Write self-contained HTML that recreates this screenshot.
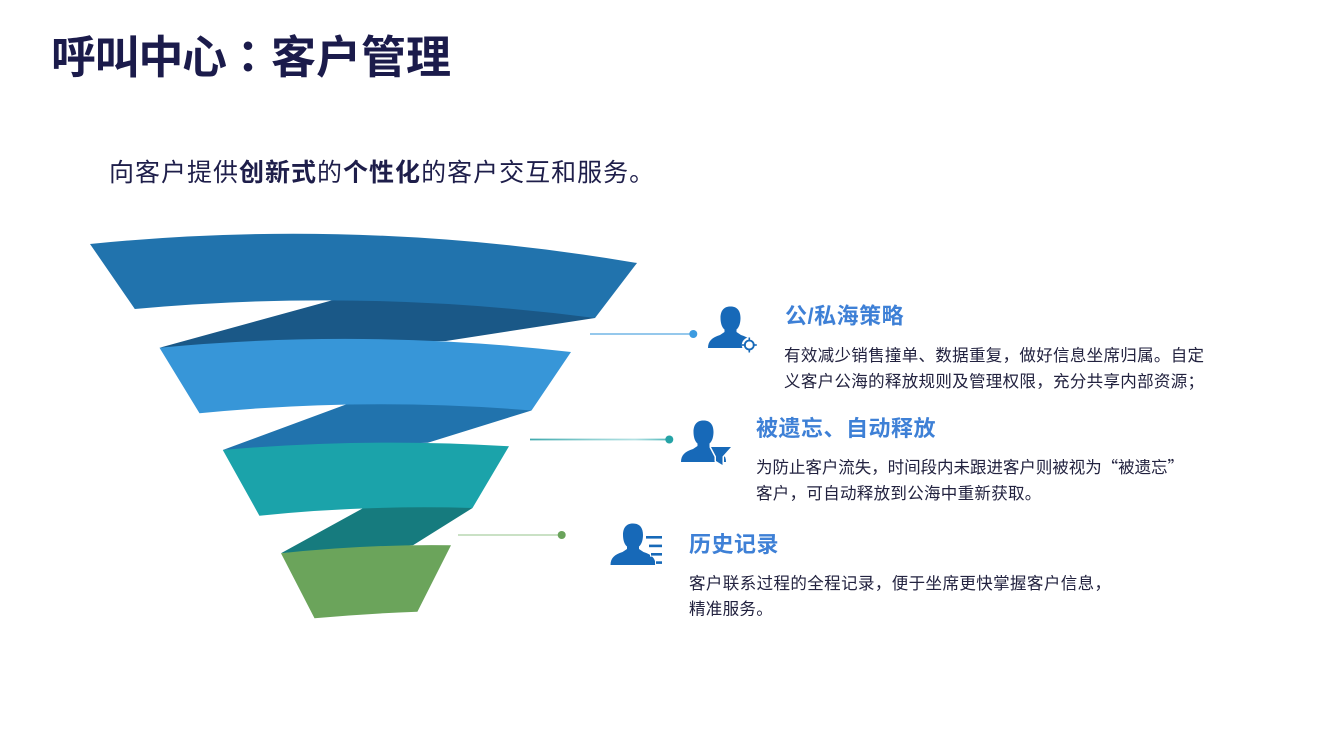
<!DOCTYPE html>
<html>
<head>
<meta charset="utf-8">
<style>
  html, body { margin: 0; padding: 0; background: #ffffff; }
  body { width: 1333px; height: 750px; overflow: hidden; }
  svg { display: block; }
  .t { font-family: "Liberation Sans", "Noto Sans CJK SC", sans-serif; }
</style>
</head>
<body>
<svg width="1333" height="750" viewBox="0 0 1333 750" xmlns="http://www.w3.org/2000/svg">
  <defs>
    <linearGradient id="g2" x1="530" y1="0" x2="670" y2="0" gradientUnits="userSpaceOnUse">
      <stop offset="0" stop-color="#3FA9AD"/>
      <stop offset="0.45" stop-color="#8ED0D2"/>
      <stop offset="0.75" stop-color="#B3E1E3"/>
      <stop offset="1" stop-color="#4DB6B9"/>
    </linearGradient>
  </defs>
  <rect width="1333" height="750" fill="#ffffff"/>

  <!-- Title -->
  <text class="t" x="51" y="73" font-size="45" font-weight="bold" fill="#1B1B4B" textLength="176" lengthAdjust="spacing">呼叫中心</text>
  <text x="248" y="73" font-size="45" font-weight="bold" fill="#1B1B4B" text-anchor="middle" font-family="'Liberation Sans', 'Noto Sans CJK TC', sans-serif">：</text>
  <text class="t" x="271" y="73" font-size="45" font-weight="bold" fill="#1B1B4B" textLength="180" lengthAdjust="spacing">客户管理</text>

  <!-- Subtitle -->
  <text class="t" x="109" y="181" font-size="25" fill="#1E1E4A" letter-spacing="1">向客户提供<tspan font-weight="bold">创新式</tspan>的<tspan font-weight="bold">个性化</tspan>的客户交互和服务。</text>

  <!-- Funnel dark (back) pieces -->
  <path d="M159.5,347.7 L336,299.2 L342,291 L600,300 L595,318 L446,341 Z" fill="#1A5887"/>
  <path d="M222.8,450 L350,403 L356,398 L530,404 L531.5,410.5 L427.8,442.7 Z" fill="#2173AD"/>
  <path d="M281,553.3 L367,506 L372,501 L470,502 L472.5,508 L413,545.3 Z" fill="#167B7E"/>

  <!-- Funnel bands -->
  <path d="M90,244 Q363.5,216.5 637,263 L595,318 Q365,288 134.8,309 Z" fill="#2173AD"/>
  <path d="M159.5,347.7 Q365.25,328.2 571,352 L531.5,410.5 Q365.5,396.7 199.5,413.3 Z" fill="#3796D8"/>
  <path d="M222.8,450 Q365.9,437.3 509,446.3 L472.5,508 Q365.9,504.8 259.4,515.7 Z" fill="#1BA3AA"/>
  <path d="M281,553.3 Q366,544.1 451,545.3 L417.4,611.7 Q366,613.6 314.5,618.3 Z" fill="#6BA45B"/>

  <!-- Connectors -->
  <line x1="590" y1="334" x2="693" y2="334" stroke="#72B5E6" stroke-width="1.6"/>
  <circle cx="693.3" cy="334" r="4" fill="#3C9BE0"/>
  <line x1="530" y1="439.5" x2="669" y2="439.5" stroke="url(#g2)" stroke-width="1.8"/>
  <circle cx="669.3" cy="439.5" r="4" fill="#25A3A6"/>
  <line x1="458" y1="535" x2="561" y2="535" stroke="#C3DDBD" stroke-width="1.8"/>
  <circle cx="561.7" cy="535" r="4" fill="#6AA35B"/>

  <!-- Icon 1: person + target -->
  <g fill="#1769B8">
    <path d="M708,348 C708,341 712,337.5 720,335 L724.5,332 L724.5,329.5 C721.5,327 720.5,322 720.5,318 C720.5,310 724.5,306.5 730.5,306.5 C736.5,306.5 740.5,310 740.5,318 C740.5,322 739.5,327 736.5,329.5 L736.5,332 L741,335 C749,337.5 753,341 753,348 Z"/>
  </g>
  <circle cx="749.3" cy="345" r="7.5" fill="#ffffff"/>
  <circle cx="749.3" cy="345" r="4.5" fill="none" stroke="#1769B8" stroke-width="1.8"/>
  <g stroke="#1769B8" stroke-width="1.6">
    <line x1="749.3" y1="337.5" x2="749.3" y2="341.5"/>
    <line x1="749.3" y1="348.5" x2="749.3" y2="352.5"/>
    <line x1="741.8" y1="345" x2="745.8" y2="345"/>
    <line x1="752.8" y1="345" x2="756.8" y2="345"/>
  </g>

  <!-- Icon 2: person + funnel -->
  <g fill="#1769B8" transform="translate(-27,114)">
    <path d="M708,348 C708,341 712,337.5 720,335 L724.5,332 L724.5,329.5 C721.5,327 720.5,322 720.5,318 C720.5,310 724.5,306.5 730.5,306.5 C736.5,306.5 740.5,310 740.5,318 C740.5,322 739.5,327 736.5,329.5 L736.5,332 L741,335 C749,337.5 753,341 753,348 Z"/>
  </g>
  <path d="M711,447 L731,447 L722.5,456.5 L722.5,465 L716,461 L716,456.5 Z" fill="#1769B8" stroke="#ffffff" stroke-width="3" paint-order="stroke" stroke-linejoin="round"/>

  <!-- Icon 3: person + list -->
  <g fill="#1769B8" transform="translate(-97.5,217)">
    <path d="M708,348 C708,341 712,337.5 720,335 L724.5,332 L724.5,329.5 C721.5,327 720.5,322 720.5,318 C720.5,310 724.5,306.5 730.5,306.5 C736.5,306.5 740.5,310 740.5,318 C740.5,322 739.5,327 736.5,329.5 L736.5,332 L741,335 C749,337.5 753,341 753,348 Z"/>
  </g>
  <g fill="#1769B8" stroke="#ffffff" stroke-width="2" paint-order="stroke">
    <rect x="646" y="536" width="16" height="2.6"/>
    <rect x="649" y="544.6" width="13" height="2.6"/>
    <rect x="651" y="553" width="11" height="2.6"/>
    <rect x="656" y="561.3" width="6" height="2.6"/>
  </g>

  <!-- Section 1 -->
  <text class="t" x="785" y="323.5" font-size="22" font-weight="bold" fill="#3E80D6" letter-spacing="0.5">公/私海策略</text>
  <text class="t" x="784" y="361" font-size="16.5" fill="#22223F" textLength="420" lengthAdjust="spacing">有效减少销售撞单、数据重复，做好信息坐席归属。自定</text>
  <text class="t" x="784" y="387" font-size="16.5" fill="#22223F" textLength="420" lengthAdjust="spacing">义客户公海的释放规则及管理权限，充分共享内部资源；</text>

  <!-- Section 2 -->
  <text class="t" x="756" y="436" font-size="22" font-weight="bold" fill="#3E80D6" letter-spacing="0.5">被遗忘、自动释放</text>
  <text class="t" x="756" y="473" font-size="16.5" fill="#22223F" textLength="428" lengthAdjust="spacing">为防止客户流失，时间段内未跟进客户则被视为<tspan font-family="'Noto Sans CJK SC', sans-serif">“</tspan>被遗忘<tspan font-family="'Noto Sans CJK SC', sans-serif">”</tspan></text>
  <text class="t" x="756" y="499" font-size="16.5" fill="#22223F" letter-spacing="0.3">客户，可自动释放到公海中重新获取。</text>

  <!-- Section 3 -->
  <text class="t" x="689" y="552" font-size="22" font-weight="bold" fill="#3E80D6" letter-spacing="0.5">历史记录</text>
  <text class="t" x="689" y="589" font-size="16.5" fill="#22223F" textLength="422" lengthAdjust="spacing">客户联系过程的全程记录，便于坐席更快掌握客户信息，</text>
  <text class="t" x="689" y="614.5" font-size="16.5" fill="#22223F" letter-spacing="0.3">精准服务。</text>
</svg>
</body>
</html>
